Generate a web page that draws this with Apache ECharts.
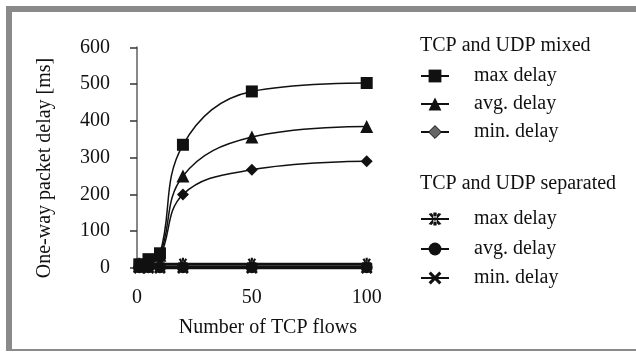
<!DOCTYPE html>
<html>
<head>
<meta charset="utf-8">
<script src="https://cdn.jsdelivr.net/npm/echarts@6/dist/echarts.min.js"></script>
<style>
html,body{margin:0;padding:0;background:#fff;}
#frame{position:absolute;left:6px;top:6px;width:630px;height:345px;border-left:6px solid #8a8a8a;border-top:6px solid #8a8a8a;border-bottom:2px solid #8a8a8a;box-sizing:border-box;}
#chart{position:absolute;left:0;top:0;width:636px;height:353px;}
</style>
</head>
<body>
<div id="frame"></div>
<div id="chart"></div>
<script>
// ---- data ----
const flows = [1, 5, 10, 20, 50, 100];
const mixedMax = [10, 24, 40, 335, 480, 503];
const mixedAvg = [6, 15, 35, 250, 356, 385];
const mixedMin = [4, 10, 30, 200, 267, 290];
const sepMax = [10, 10, 10, 10, 10, 10];
const sepAvg = [2, 2, 2, 2, 2, 2];
const sepMin = [0, 0, 0, 0, 0, 0];
const xTicks = [0, 50, 100];
const yTicks = [0, 100, 200, 300, 400, 500, 600];
const seriesNames = ['max delay', 'avg. delay', 'min. delay'];
const groupTitles = ['TCP and UDP mixed', 'TCP and UDP separated'];

const font = 'Liberation Serif, Times New Roman, serif';
const FS = 20;
const ASTER = 'path://M-1,-6 L1,-6 L1,6 L-1,6 Z M2.134,5.696 L3.866,4.696 L-2.134,-5.696 L-3.866,-4.696 Z M3.866,-4.696 L2.134,-5.696 L-3.866,4.696 L-2.134,5.696 Z';
const XMARK = 'path://M3.394,5.091 L5.091,3.394 L-3.394,-5.091 L-5.091,-3.394 Z M5.091,-3.394 L3.394,-5.091 L-5.091,3.394 L-3.394,5.091 Z';

function pairs(ys){ return flows.map((x,i)=>[x, ys[i]]); }

function mk(id, name, ys, symbol, size, lw, smooth){
  return {
    id: id, name: name, type: 'line', data: pairs(ys), smooth: smooth,
    symbol: symbol, symbolSize: size, symbolKeepAspect: true, showSymbol: true,
    lineStyle: {color: '#111', width: lw},
    itemStyle: {color: '#111', borderColor: '#111', borderWidth: 0, opacity: 1},
    animation: false, z: 2
  };
}

const series = [
  mk('mmax', 'mixed ' + seriesNames[0], mixedMax, 'rect', 12, 1.5, 0.4),
  mk('mavg', 'mixed ' + seriesNames[1], mixedAvg, 'triangle', 13, 1.5, 0.4),
  mk('mmin', 'mixed ' + seriesNames[2], mixedMin, 'diamond', 12, 1.5, 0.4),
  mk('smax', 'sep ' + seriesNames[0], sepMax, ASTER, 13, 3, false),
  mk('savg', 'sep ' + seriesNames[1], sepAvg, 'circle', 12, 3, false),
  mk('smin', 'sep ' + seriesNames[2], sepMin, XMARK, 12, 3, false)
];

const legendTops = [76, 104, 132, 219, 249, 278];
const legends = series.map((s, i) => ({
  left: 420, top: legendTops[i] - 10, padding: 0,
  itemWidth: 28, itemHeight: 16,
  data: [ i === 2 ? {name: s.name, itemStyle: {color: '#666', borderColor: '#111', borderWidth: 1}} : {name: s.name} ],
  formatter: function(n){ return n.replace(/^(mixed|sep) /, ''); },
  textStyle: {fontFamily: font, fontSize: FS, color: '#111', lineHeight: 20, padding: [0,0,0,20]},
  selectedMode: false
}));

const chart = echarts.init(document.getElementById('chart'), null, {renderer: 'canvas'});
chart.setOption({
  backgroundColor: 'transparent',
  animation: false,
  title: [
    {text: groupTitles[0], left: 420, top: 36, padding: 0, textStyle: {fontFamily: font, fontSize: FS, fontWeight: 'normal', color: '#111'}},
    {text: groupTitles[1], left: 420, top: 174, padding: 0, textStyle: {fontFamily: font, fontSize: FS, fontWeight: 'normal', color: '#111'}}
  ],
  legend: legends,
  grid: {left: 137, top: 47.3, width: 229.7, height: 220.7, containLabel: false},
  xAxis: {
    type: 'value', min: xTicks[0], max: xTicks[xTicks.length-1], interval: 50,
    name: 'Number of TCP flows', nameLocation: 'middle', nameGap: 50,
    nameTextStyle: {fontFamily: font, fontSize: FS, color: '#111', padding: [0,0,0,32]},
    axisLine: {show: true, lineStyle: {color: '#888', width: 2}},
    axisTick: {show: false},
    splitLine: {show: false},
    axisLabel: {fontFamily: font, fontSize: FS, color: '#111', margin: 20}
  },
  yAxis: {
    type: 'value', min: yTicks[0], max: yTicks[yTicks.length-1], interval: 100,
    axisLine: {show: true, lineStyle: {color: '#888', width: 2}},
    axisTick: {show: true, inside: false, length: 7, lineStyle: {color: '#333', width: 1.5}},
    splitLine: {show: false},
    axisLabel: {fontFamily: font, fontSize: FS, color: '#111', margin: 27}
  },
  graphic: [{
    type: 'text', x: 45, y: 168, rotation: Math.PI / 2,
    style: {text: 'One-way packet delay [ms]', font: FS + 'px ' + font, fill: '#111', textAlign: 'center', textVerticalAlign: 'middle'}
  }],
  series: series
});
</script>
</body>
</html>
